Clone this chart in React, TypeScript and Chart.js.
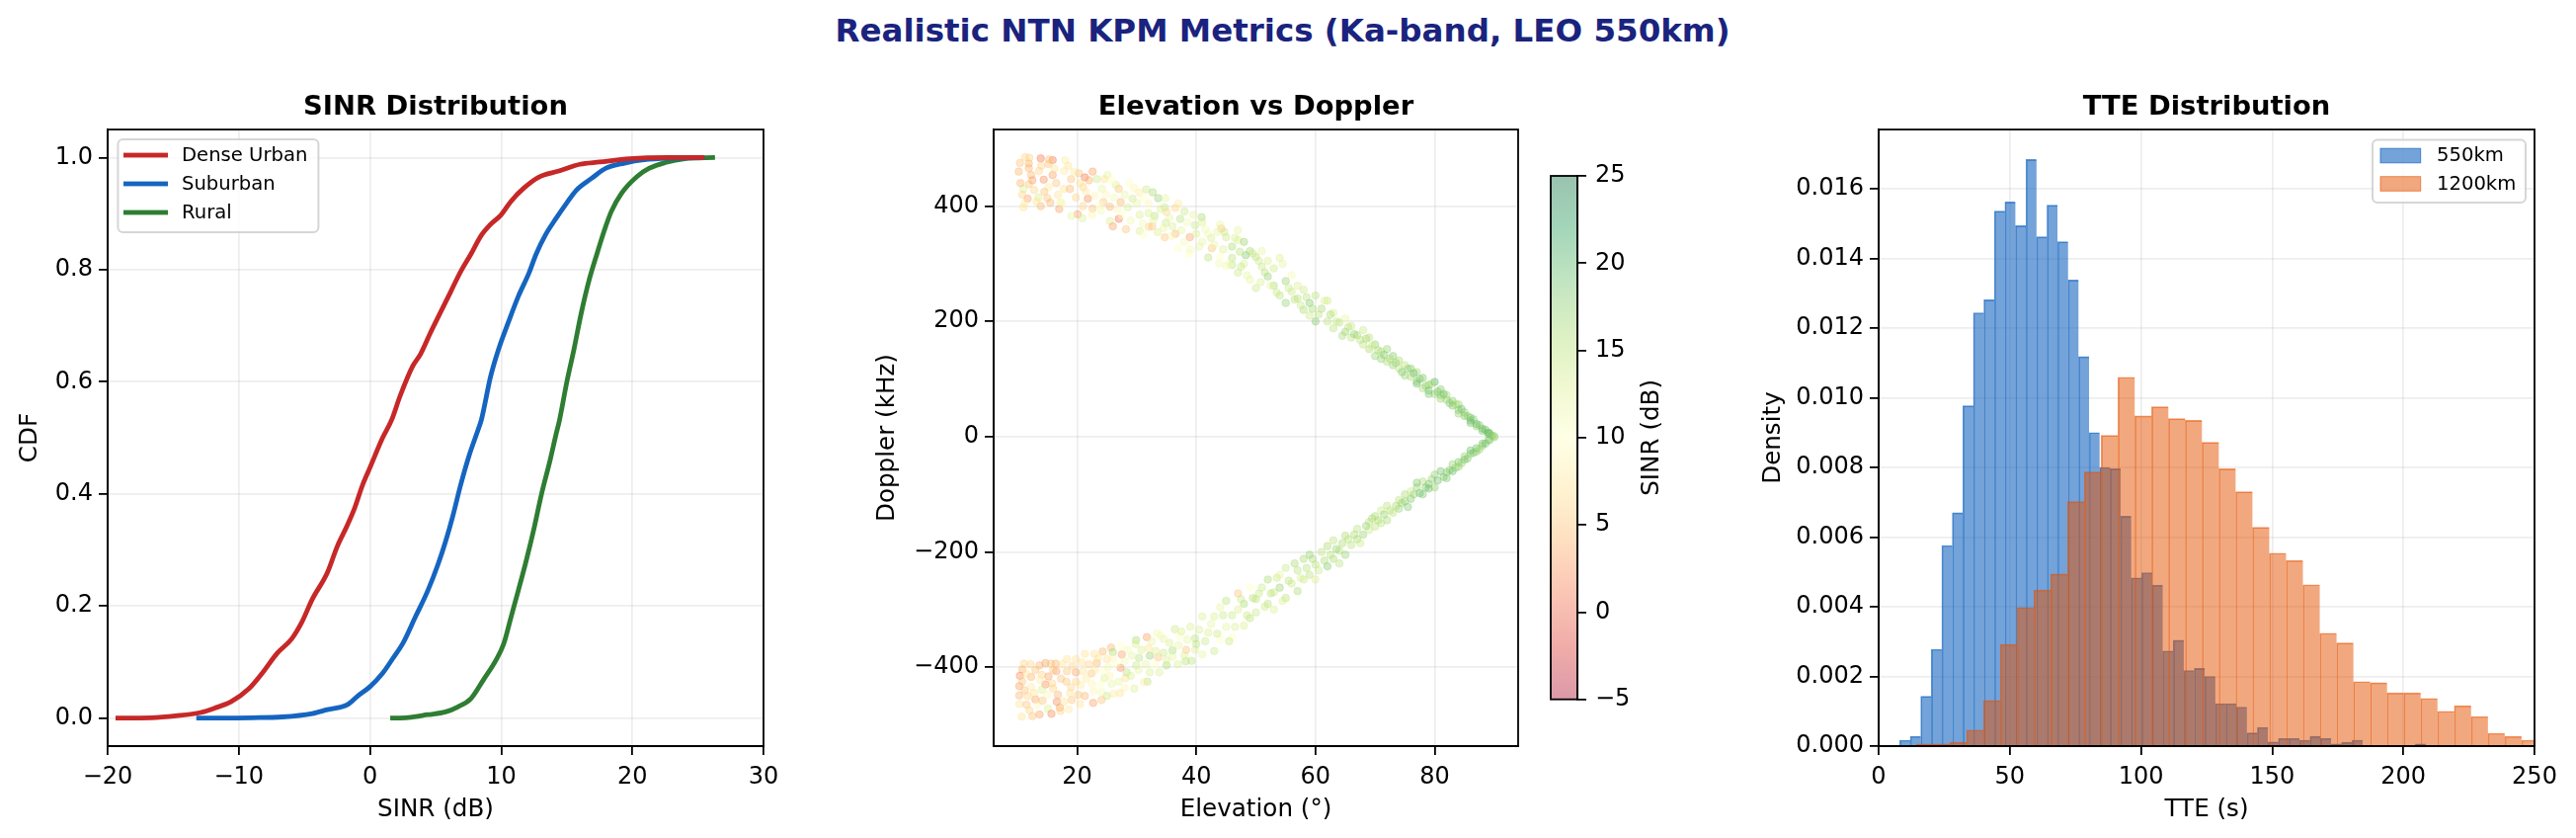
import { useEffect, useRef } from 'react'
import { Chart, registerables } from 'chart.js'

Chart.register(...registerables)

const FONT = '"DejaVu Sans"'
const TICK_SIZE = 24
const LABEL_SIZE = 24.6

// --- SINR CDF
const denseUrbanSinr = [-19.4, -16.7, -14.8, -12.9, -11.7, -10.6, -9.2, -8.25, -7.1, -5.95, -5.2, -4.4, -3.26, -2.5, -1.73, -1.15, -0.58, 0, 0.96, 1.65, 2.3, 3.26, 3.84, 4.6, 5.4, 6.14, 6.9, 7.7, 8.45, 9.2, 10, 10.75, 11.7, 12.86, 14.4, 16, 17.5, 19.8, 22.8, 25.5]
const denseUrbanCdf = [0, 0.0006, 0.004, 0.01, 0.019, 0.029, 0.053, 0.079, 0.115, 0.142, 0.171, 0.212, 0.259, 0.306, 0.344, 0.376, 0.415, 0.447, 0.5, 0.532, 0.575, 0.628, 0.649, 0.687, 0.725, 0.76, 0.796, 0.828, 0.86, 0.881, 0.898, 0.922, 0.945, 0.965, 0.976, 0.988, 0.992, 0.998, 1, 1]
const suburbanSinr = [-13.24, -9, -6.7, -4.4, -3.26, -1.73, -0.96, 0, 0.96, 1.73, 2.5, 3.45, 4.4, 5.18, 5.76, 6.33, 6.9, 7.55, 8.25, 8.5, 9.2, 9.8, 10.56, 11.3, 12.1, 12.67, 13.4, 14.2, 15, 15.74, 16.9, 18, 19.4, 20.9, 23.2, 25.5]
const suburbanCdf = [0, 0.0006, 0.002, 0.008, 0.015, 0.024, 0.039, 0.056, 0.08, 0.106, 0.133, 0.18, 0.227, 0.274, 0.315, 0.362, 0.415, 0.468, 0.515, 0.533, 0.61, 0.658, 0.707, 0.752, 0.793, 0.828, 0.863, 0.892, 0.919, 0.942, 0.963, 0.981, 0.99, 0.996, 0.999, 1]
const ruralSinr = [1.54, 2.9, 4.4, 5.76, 6.7, 7.7, 8.64, 9.6, 10.2, 10.75, 11.3, 11.9, 12.5, 13.05, 13.75, 14.15, 14.45, 15, 15.55, 16.1, 16.7, 17.3, 17.85, 18.4, 19.2, 20.35, 21.3, 22.5, 24, 26.3]
const ruralCdf = [0, 0.001, 0.006, 0.011, 0.02, 0.035, 0.068, 0.103, 0.133, 0.18, 0.227, 0.28, 0.338, 0.397, 0.462, 0.503, 0.532, 0.599, 0.658, 0.722, 0.781, 0.828, 0.869, 0.904, 0.937, 0.966, 0.981, 0.991, 0.998, 1]

// --- elevation, doppler, sinr for the approaching pass
const approachPass: [number, number, number][] = [
  [11.3, 485, 6], [12, 484, 6], [13.9, 483, 1], [15.9, 480, 1], [15.3, 481, 5], [18, 480, 8], [10.4, 475, 5], [11.9, 474, 4], [15.2, 473, 5], [11.9, 466, 4],
  [10.2, 460, 4], [13.6, 461, 6], [15.9, 454, 3], [17.8, 461, 8], [20.3, 457, 5], [22.6, 460, 3], [21.3, 450, 1], [23.3, 447, 14], [25.1, 454, 12], [24.6, 447, 7],
  [14.4, 446, 2], [12.3, 454, 4], [11.9, 438, 5], [11, 430, 13], [15.2, 433, 8], [17.8, 430, 7], [19, 447, 5], [18.8, 430, 4], [21, 433, 6], [24.2, 430, 12],
  [27, 430, 5], [26.5, 437, 13], [28.7, 441, 10], [31.6, 429, 14], [32.7, 424, 16], [30.4, 424, 8], [33.6, 414, 17], [34.8, 414, 12], [29.3, 413, 14], [31, 415, 10],
  [11.7, 413, 3], [13.5, 415, 13], [15, 414, 5], [11, 398, 7], [13.9, 400, 4], [15.5, 406, 4], [17.2, 407, 12], [21.8, 413, 2], [24.4, 407, 5], [27.3, 407, 4],
  [25.5, 399, 4], [22.6, 396, 5], [17, 395, 3], [20.1, 386, 3], [19, 383, 12], [20.9, 379, 13], [27, 378, 1], [25.5, 374, 13], [26, 365, 3], [28.2, 360, 5],
  [30.5, 357, 13], [31.2, 350, 10], [34.7, 346, 5], [36.5, 352, 4], [38.9, 346, 3], [32, 364, 6], [32.6, 365, 5], [34.9, 371, 14], [37.3, 378, 15], [40.9, 381, 16],
  [38, 391, 14], [35, 390, 6], [36.5, 397, 6], [33, 383, 15], [32, 388, 13], [34.7, 398, 14], [39.8, 367, 14], [42.6, 327, 5], [41, 338, 12], [42, 311, 15],
  [38.8, 317, 10], [37, 327, 10], [44.7, 355, 14], [44.2, 361, 5], [47, 341, 13], [48.3, 315, 18], [47.3, 321, 15], [46, 298, 15], [43.8, 301, 11],
  [41, 372, 13], [42, 352, 11], [43, 333, 12], [44, 368, 12], [44, 312, 10], [45, 346, 14], [45, 296, 11], [46, 330, 16], [46, 310, 15], [47, 358, 12], [47, 285, 14],
  [48, 338, 17], [48, 300, 13], [49, 322, 16], [49, 272, 12], [50, 312, 15], [50, 258, 14], [51, 295, 14], [51, 322, 12], [52, 278, 17], [52, 305, 13], [53, 262, 16],
  [53, 292, 14], [54, 310, 13], [54, 245, 15], [55, 270, 17], [55, 232, 17], [56, 252, 14], [56, 280, 11], [57, 240, 15], [57, 262, 13], [58, 220, 16], [58, 255, 14],
  [59, 232, 18], [59, 210, 14], [60, 245, 15], [60, 200, 18], [61, 222, 16], [62, 236, 14], [62, 200, 15], [63, 188, 15], [63, 215, 13], [64, 198, 15], [65, 182, 17],
  [65, 205, 12], [66, 172, 15], [66, 192, 14], [67, 176, 16], [68, 160, 15], [68, 185, 14], [69, 152, 16], [69, 172, 15], [70, 140, 17], [70, 160, 17], [71, 148, 15],
  [72, 130, 16], [72, 152, 17], [73, 124, 17], [73, 140, 18], [74, 132, 16], [75, 106, 17], [75, 124, 15], [76, 118, 18], [77, 96, 17], [77, 112, 16], [78, 102, 18],
  [78, 84, 16], [79, 90, 17], [80, 74, 17], [80, 95, 20], [81, 66, 17], [81, 82, 18], [82, 72, 16], [83, 54, 18], [83, 62, 18], [84, 46, 18], [84, 56, 17], [85, 42, 17],
  [85, 36, 18], [86, 28, 18], [86, 33, 19], [87, 22, 20], [87, 18, 17], [88, 14, 19], [88, 10, 18], [89, 5, 18], [89, 7, 20], [90, 1, 16], [89.6, 2, 18],
  [10.5, 440, 4], [10.8, 420, 6], [11.2, 405, 8], [12.5, 445, 3], [12.8, 428, 6], [13.2, 408, 7], [14, 470, 6], [14.5, 425, 5], [16.2, 465, 7], [16.5, 440, 5], [16.8, 420, 7],
  [17.5, 405, 9], [18.5, 470, 7], [19.5, 460, 8], [19.8, 415, 6], [20.5, 440, 7], [21, 400, 6], [21.5, 425, 8], [22, 445, 4], [22.5, 385, 9], [23, 418, 9], [23.8, 402, 10],
  [24, 392, 11], [24.8, 420, 9], [25.8, 445, 10], [26.2, 415, 11], [26.8, 395, 9], [27.5, 385, 10], [28, 420, 12], [28.5, 398, 13], [29, 375, 11], [29.5, 432, 9], [30, 405, 12],
  [30.5, 385, 13], [31, 370, 11], [32, 405, 9], [32.8, 375, 12], [33.5, 355, 13], [34, 395, 13], [34.5, 362, 12], [35.5, 380, 12], [35.8, 348, 11], [36, 365, 13], [37, 405, 8],
  [37.5, 358, 12], [38, 338, 11], [38.5, 372, 11], [39, 325, 11], [39.5, 385, 12], [40, 352, 13], [40.5, 330, 12], [41.5, 360, 11], [42.5, 345, 13], [43.5, 355, 12], [44.5, 325, 13],
  [45.5, 300, 11], [46.5, 345, 13], [47.5, 295, 14], [48.5, 280, 12], [49.5, 318, 14], [50.5, 305, 14], [50.8, 268, 13], [51.5, 285, 15], [52.5, 262, 12], [53.5, 250, 14], [54.5, 300, 12],
  [55.5, 258, 14], [56.5, 238, 15], [57.5, 228, 14], [58.5, 242, 15], [59.5, 222, 16], [60.5, 212, 15], [61.5, 236, 13], [62.5, 212, 16], [63.5, 200, 14], [64.5, 175, 16], [65.5, 190, 15],
  [66.5, 178, 17], [67.5, 168, 15], [68.5, 170, 16], [69.5, 158, 14], [70.5, 150, 16], [71, 135, 17], [71.5, 142, 18], [72.5, 135, 16], [73.5, 128, 17], [74, 118, 15], [74.5, 112, 18],
  [75.5, 118, 17], [76, 104, 16], [76.5, 110, 19], [77.5, 100, 18], [78.5, 88, 17], [79, 80, 19], [79.5, 92, 16], [80.5, 78, 18], [81.5, 74, 19], [82, 64, 17], [82.5, 58, 18],
  [83.5, 56, 16], [84.5, 48, 19], [85.5, 36, 17], [86.5, 30, 18], [87.5, 20, 18], [88.5, 12, 19], [89.2, 6, 18], [84, 40, 17], [86, 24, 19], [81, 72, 17], [79, 74, 18], [77, 92, 19],
]

// --- same thing for the receding pass
const recedePass: [number, number, number][] = [
  [11.1, -394, 6], [12.2, -395, 6], [13.7, -397, 4], [14.7, -393, 3], [15.6, -394, 5], [16.4, -394, 4], [10.8, -404, 4], [10.4, -415, 2], [12.3, -417, 4], [14.1, -413, 6],
  [15.2, -416, 3], [16.5, -407, 3], [18.3, -386, 7], [18.3, -407, 5], [19.8, -386, 7], [19.8, -409, 3], [21.3, -377, 7], [22.9, -377, 7], [24.3, -373, 4], [25.7, -366, 4],
  [26, -374, 16], [27.5, -378, 3], [27.4, -363, 10], [23.3, -393, 4], [25, -386, 7], [27.3, -401, 2], [21, -407, 7], [22.4, -411, 5], [24.5, -407, 10], [10.3, -433, 3],
  [12.3, -434, 8], [14.7, -430, 2], [14.1, -439, 13], [16, -437, 6], [17.3, -420, 5], [19, -435, 6], [20.6, -431, 8], [22.5, -429, 9], [24.6, -419, 13], [25.8, -429, 12],
  [28, -436, 9], [29.6, -437, 13], [31.8, -425, 15], [31.2, -426, 8], [28.1, -419, 7], [26.1, -446, 8], [24.1, -443, 11], [25, -450, 14], [21.3, -450, 4], [22.7, -462, 3],
  [24.1, -457, 5], [20.5, -464, 7], [19.1, -457, 5], [18.6, -473, 8], [10.3, -449, 4], [11.7, -450, 6], [13, -456, 3], [10.3, -464, 7], [11.5, -465, 5], [13.3, -466, 9],
  [15.1, -472, 13], [16.6, -460, 2], [17.1, -470, 3], [10.7, -486, 7], [12.5, -485, 5], [13.7, -482, 3], [15.7, -481, 2], [17.2, -476, 6], [29.9, -353, 16], [31.7, -348, 3],
  [33.4, -341, 11], [32.2, -380, 17], [30.4, -384, 15], [32, -367, 7], [33.6, -383, 5], [28.3, -409, 15], [29.9, -397, 14], [32.2, -409, 13], [33.8, -409, 13], [35, -397, 16],
  [36.9, -395, 13], [38.2, -390, 15], [39.2, -389, 15], [36, -371, 16], [38.3, -370, 5], [39.8, -350, 15], [39.8, -370, 13], [34.5, -351, 12], [36.4, -334, 14], [37.2, -346, 10],
  [41, -378, 12], [42, -340, 13], [43, -312, 13], [43, -372, 14], [44, -296, 12], [44, -352, 10], [45, -330, 12], [45, -285, 15], [46, -310, 14], [46, -348, 10], [47, -272, 5],
  [47, -300, 13], [48, -328, 13], [48, -290, 16], [49, -262, 10], [49, -315, 15], [50, -282, 15], [50, -305, 14], [51, -262, 14], [52, -290, 15], [52, -248, 16], [53, -270, 14],
  [53, -300, 13], [54, -240, 12], [54, -262, 17], [55, -280, 15], [55, -228, 14], [56, -255, 14], [57, -232, 15], [57, -268, 16], [58, -212, 16], [58, -248, 14], [59, -240, 15],
  [59, -205, 17], [60, -222, 15], [60, -248, 13], [61, -200, 15], [62, -225, 18], [62, -190, 16], [63, -212, 16], [63, -180, 15], [64, -198, 15], [64, -220, 15], [65, -172, 16],
  [65, -205, 17], [66, -188, 15], [67, -160, 15], [67, -178, 16], [68, -170, 17], [69, -148, 15], [69, -162, 14], [70, -138, 16], [70, -156, 15], [71, -128, 14], [72, -145, 16],
  [72, -120, 15], [73, -132, 15], [74, -110, 15], [74, -125, 17], [75, -112, 17], [76, -95, 14], [76, -108, 18], [77, -88, 17], [78, -100, 18], [78, -78, 16], [79, -82, 18],
  [80, -66, 17], [80, -88, 17], [81, -60, 19], [82, -62, 17], [82, -72, 18], [83, -48, 17], [84, -44, 18], [84, -52, 17], [85, -34, 17], [85, -40, 18], [86, -30, 17],
  [87, -20, 19], [87, -26, 17], [88, -12, 18], [88, -16, 17], [89, -6, 17], [90, -1, 17],
  [10.8, -425, 5], [11.2, -440, 5], [11.5, -412, 7], [12, -475, 6], [12.8, -445, 7], [13, -405, 5], [13.8, -422, 8], [14.2, -458, 5], [15, -448, 9], [15.8, -428, 6], [16, -405, 5],
  [16.8, -448, 4], [17.5, -395, 7], [17.8, -460, 7], [18.2, -425, 5], [18.8, -445, 7], [19.2, -398, 6], [19.8, -425, 6], [20.2, -448, 5], [20.8, -392, 7], [21.5, -420, 8], [22, -395, 6],
  [22.8, -442, 9], [23, -405, 8], [23.5, -385, 7], [24, -430, 10], [25.2, -400, 11], [25.5, -415, 9], [26, -385, 9], [26.5, -395, 10], [27, -425, 12], [27.2, -445, 7], [28, -390, 11],
  [28.5, -370, 11], [29, -415, 13], [29.2, -380, 12], [29.8, -360, 13], [30.3, -405, 12], [30.8, -370, 13], [31.5, -395, 12], [32.5, -355, 12], [33, -395, 10], [33.2, -372, 13], [34, -345, 11],
  [34.5, -375, 14], [35, -388, 13], [35.5, -358, 13], [36, -382, 12], [37, -362, 12], [37.5, -338, 13], [38, -380, 13], [38.5, -352, 12], [39, -330, 13], [40, -360, 15], [40.5, -335, 13],
  [41, -312, 13], [41.5, -355, 14], [42.5, -325, 12], [43.5, -342, 14], [44.5, -310, 14], [45.5, -355, 14], [46.5, -330, 13], [47.5, -282, 14], [48.5, -310, 14], [49.5, -280, 15], [50.5, -272, 14],
  [51.5, -295, 14], [52.5, -272, 15], [53.5, -245, 14], [54.5, -285, 13], [55.5, -250, 15], [56.5, -220, 16], [57.5, -245, 13], [58.5, -228, 15], [59.5, -212, 16], [60.5, -232, 14], [61.5, -215, 16],
  [62.5, -205, 15], [63.5, -195, 17], [64.5, -185, 16], [65.5, -178, 15], [66.5, -170, 16], [67.5, -185, 14], [68.5, -155, 17], [69.5, -142, 16], [70.5, -145, 16], [71, -150, 15], [71.5, -135, 17],
  [72.5, -128, 15], [73.5, -120, 16], [74.5, -115, 17], [75, -100, 16], [75.5, -122, 18], [76.5, -100, 17], [77.5, -98, 19], [78.5, -88, 18], [79.5, -74, 17], [80.5, -76, 19], [81.5, -70, 18],
  [82.5, -58, 18], [83.5, -54, 17], [84.5, -46, 17], [85.5, -38, 18], [86.5, -28, 18], [87.5, -22, 17], [88.5, -12, 19], [89.2, -6, 18], [79, -90, 19], [77, -80, 18], [83, -60, 19], [86, -24, 19],
]

// --- TTE histograms: bin centres (s) and density
const tte550Bins = [10.04, 14.05, 18.06, 22.07, 26.08, 30.09, 34.1, 38.11, 42.12, 46.13, 50.14, 54.15, 58.16, 62.17, 66.18, 70.19, 74.2, 78.21, 82.22, 86.23, 90.24, 94.25, 98.26, 102.27, 106.28, 110.29, 114.3, 118.31, 122.32, 126.33, 130.34, 134.35, 138.36, 142.37, 146.38, 150.39, 154.4, 158.41, 162.42, 166.43, 170.44, 174.45, 178.46, 182.47, 206.53]
const tte550Density = [0.00017, 0.00028, 0.00143, 0.00278, 0.00576, 0.0067, 0.00977, 0.01244, 0.01281, 0.01536, 0.01562, 0.01494, 0.01684, 0.01462, 0.01553, 0.01448, 0.01338, 0.01118, 0.009, 0.008, 0.00796, 0.0066, 0.00483, 0.00498, 0.00462, 0.00273, 0.00304, 0.00217, 0.00223, 0.002, 0.00122, 0.00122, 0.00112, 0.00038, 0.00054, 0.00012, 0.00022, 0.00022, 0.00017, 0.00028, 0.00022, 0.00006, 0.00011, 0.00017, 0.00006]
const tte1200Bins = [17.51, 23.92, 30.33, 36.74, 43.15, 49.56, 55.97, 62.38, 68.79, 75.2, 81.61, 88.02, 94.43, 100.84, 107.25, 113.66, 120.07, 126.48, 132.89, 139.3, 145.71, 152.12, 158.53, 164.94, 171.35, 177.76, 184.17, 190.58, 196.99, 203.4, 209.81, 216.22, 222.63, 229.04, 235.45, 241.86, 248.27]
const tte1200Density = [0.00006, 0.00006, 0.00011, 0.00046, 0.00131, 0.00292, 0.00398, 0.00448, 0.00494, 0.00702, 0.00787, 0.00892, 0.01059, 0.00948, 0.00974, 0.0094, 0.00935, 0.00872, 0.00796, 0.0073, 0.00628, 0.00554, 0.00533, 0.00463, 0.00324, 0.00296, 0.00185, 0.00182, 0.00153, 0.00153, 0.00137, 0.001, 0.00116, 0.00085, 0.00037, 0.00028, 0.00017]

// --- ticks
const sinrTicks = [-20, -10, 0, 10, 20, 30]
const cdfTicks = [0, 0.2, 0.4, 0.6, 0.8, 1]
const elevationTicks = [20, 40, 60, 80]
const dopplerTicks = [-400, -200, 0, 200, 400]
const colorbarTicks = [-5, 0, 5, 10, 15, 20, 25]
const tteTicks = [0, 50, 100, 150, 200, 250]
const densityTicks = [0, 0.002, 0.004, 0.006, 0.008, 0.01, 0.012, 0.014, 0.016]

// RdYlGn stops
const rdYlGn = [[165, 0, 38], [215, 48, 39], [244, 109, 67], [253, 174, 97], [254, 224, 139], [255, 255, 191], [217, 239, 139], [166, 217, 106], [102, 189, 99], [26, 152, 80], [0, 104, 55]]

function sinrColor(sinr: number, alpha: number) {
  const t = Math.min(Math.max((sinr + 5) / 30, 0), 1) * (rdYlGn.length - 1)
  const i = Math.min(Math.floor(t), rdYlGn.length - 2)
  const c = rdYlGn[i].map((v, k) => Math.round(v + (rdYlGn[i + 1][k] - v) * (t - i)))
  return `rgba(${c[0]},${c[1]},${c[2]},${alpha})`
}

const minus = (s: string) => s.replace('-', '\u2212')

// x or y axis in the matplotlib look
function axis(min: number, max: number, ticks: number[], digits: number, title: any, size?: number, horizontal?: boolean) {
  return {
    type: 'linear',
    min,
    max,
    afterBuildTicks: (scale: any) => {
      scale.ticks = ticks.map((value) => ({ value }))
    },
    afterFit: (scale: any) => {
      if (size === undefined) return
      if (horizontal) scale.height = size
      else scale.width = size
    },
    ticks: {
      color: '#000',
      font: { family: FONT, size: TICK_SIZE },
      padding: horizontal ? 8.5 : 6,
      autoSkip: false,
      maxRotation: 0,
      callback: (v: any) => minus(Number(v).toFixed(digits)),
    },
    grid: {
      color: 'rgba(176,176,176,0.22)',
      lineWidth: 1.8,
      tickColor: '#000',
      tickLength: 9,
      tickWidth: 1.8,
    },
    border: { color: '#000', width: 1.8 },
    title: { display: !!title, color: '#000', font: { family: FONT, size: LABEL_SIZE }, ...title },
  }
}

const panelTitle = (text: string) => ({
  display: true,
  text,
  color: '#000',
  fullSize: false,
  font: { family: FONT, size: 27.4, weight: 'bold' },
  padding: { top: 92, bottom: 6.2 },
})

const framePlugin = {
  id: 'frame',
  afterDatasetsDraw(chart: any) {
    const { ctx, chartArea: a } = chart
    ctx.save()
    ctx.strokeStyle = '#000'
    ctx.lineWidth = 1.8
    ctx.strokeRect(a.left, a.top, a.right - a.left, a.bottom - a.top)
    ctx.restore()
  },
}

// matplotlib style legend sitting inside the axes
function legendInside(box: any) {
  return {
    id: 'legendInside',
    afterDraw(chart: any) {
      const { ctx } = chart
      ctx.save()
      ctx.beginPath()
      ctx.roundRect(box.x, box.y, box.w, box.h, 5)
      ctx.fillStyle = 'rgba(255,255,255,0.8)'
      ctx.fill()
      ctx.strokeStyle = 'rgba(204,204,204,0.8)'
      ctx.lineWidth = 2
      ctx.stroke()
      ctx.font = `19.6px ${FONT}`
      ctx.textBaseline = 'middle'
      chart.data.datasets.forEach((ds: any, i: number) => {
        const y = box.rows[i]
        if (box.patch) {
          ctx.fillStyle = ds.backgroundColor
          ctx.strokeStyle = ds.borderColor
          ctx.lineWidth = 1
          ctx.fillRect(box.sx, y - 7.3, box.sw, 14.6)
          ctx.strokeRect(box.sx, y - 7.3, box.sw, 14.6)
        } else {
          ctx.fillStyle = ds.borderColor
          ctx.fillRect(box.sx, y - 2.4, box.sw, 4.8)
        }
        ctx.fillStyle = '#000'
        ctx.fillText(ds.label, box.tx, y + 0.5)
      })
      ctx.restore()
    },
  }
}

const xy = (xs: number[], ys: number[]) => xs.map((x, i) => ({ x, y: ys[i] }))

const cdfLine = (label: string, xs: number[], ys: number[], color: string) => ({
  label,
  data: xy(xs, ys),
  borderColor: color,
  backgroundColor: color,
  borderWidth: 4.8,
  pointRadius: 0,
  cubicInterpolationMode: 'monotone',
})

function sinrConfig() {
  return {
    type: 'line',
    data: {
      datasets: [
        cdfLine('Dense Urban', denseUrbanSinr, denseUrbanCdf, '#C62828'),
        cdfLine('Suburban', suburbanSinr, suburbanCdf, '#1565C0'),
        cdfLine('Rural', ruralSinr, ruralCdf, '#2E7D32'),
      ],
    },
    options: {
      responsive: false,
      animation: false,
      devicePixelRatio: 1,
      layout: { padding: { right: 77 } },
      plugins: { legend: { display: false }, tooltip: { enabled: false }, title: panelTitle('SINR Distribution') },
      scales: {
        x: axis(-20, 30, sinrTicks, 0, { text: 'SINR (dB)', padding: { bottom: 14 } }, 93, true),
        y: axis(-0.05, 1.05, cdfTicks, 1, { text: 'CDF', padding: { top: 16 } }, 109),
      },
    },
    plugins: [framePlugin, legendInside({ x: 119.4, y: 141, w: 203, h: 94, sx: 125, sw: 45, tx: 184, rows: [157, 186, 215] })],
  }
}

function dopplerConfig() {
  const points = [...approachPass, ...recedePass]
  return {
    type: 'scatter',
    data: {
      datasets: [
        {
          label: 'SINR',
          data: points.map((p) => ({ x: p[0], y: p[1] })),
          backgroundColor: points.map((p) => sinrColor(p[2], 0.36)),
          borderColor: points.map((p) => sinrColor(p[2], 0.3)),
          borderWidth: 1,
          pointRadius: 3.8,
        },
      ],
    },
    options: {
      responsive: false,
      animation: false,
      devicePixelRatio: 1,
      layout: { padding: { right: 23 } },
      plugins: { legend: { display: false }, tooltip: { enabled: false }, title: panelTitle('Elevation vs Doppler') },
      scales: {
        x: axis(6, 94, elevationTicks, 0, { text: 'Elevation (\u00b0)', padding: { bottom: 14 } }, 93, true),
        y: axis(-537, 533, dopplerTicks, 0, { text: 'Doppler (kHz)', padding: { top: 33.5 } }, 156),
      },
    },
    plugins: [framePlugin],
  }
}

function colorbarConfig() {
  const y = axis(-5, 25, colorbarTicks, 0, null, 153)
  return {
    type: 'bar',
    data: {
      labels: ['SINR (dB)'],
      datasets: [
        {
          data: [[-5, 25]],
          barPercentage: 1,
          categoryPercentage: 1,
          borderWidth: 0,
          backgroundColor: (ctx: any) => {
            const a = ctx.chart.chartArea
            if (!a) return 'transparent'
            const g = ctx.chart.ctx.createLinearGradient(0, a.bottom, 0, a.top)
            rdYlGn.forEach((_, i) => g.addColorStop(i / (rdYlGn.length - 1), sinrColor(-5 + (30 * i) / (rdYlGn.length - 1), 0.4)))
            return g
          },
        },
      ],
    },
    options: {
      responsive: false,
      animation: false,
      devicePixelRatio: 1,
      layout: { padding: { left: 10, top: 178, bottom: 140.3 } },
      plugins: { legend: { display: false }, tooltip: { enabled: false } },
      scales: {
        x: { display: false },
        y: { ...y, position: 'right', grid: { ...y.grid, drawOnChartArea: false }, ticks: { ...y.ticks, padding: 9 } },
      },
    },
    plugins: [
      framePlugin,
      {
        id: 'colorbarLabel',
        afterDraw(chart: any) {
          const { ctx, chartArea: a } = chart
          ctx.save()
          ctx.translate(113, (a.top + a.bottom) / 2)
          ctx.rotate(-Math.PI / 2)
          ctx.font = `${LABEL_SIZE}px ${FONT}`
          ctx.fillStyle = '#000'
          ctx.textAlign = 'center'
          ctx.textBaseline = 'middle'
          ctx.fillText('SINR (dB)', 0, 0)
          ctx.restore()
        },
      },
    ],
  }
}

function tteConfig() {
  const x = axis(0, 250, tteTicks, 0, { text: 'TTE (s)', padding: { bottom: 14 } }, 93, true)
  return {
    type: 'bar',
    data: {
      datasets: [
        {
          label: '550km',
          data: xy(tte550Bins, tte550Density),
          backgroundColor: 'rgba(21,101,192,0.6)',
          borderColor: 'rgba(21,101,192,0.7)',
          borderWidth: { top: 1, left: 1 },
          barThickness: 10.65,
          grouped: false,
          order: 2,
        },
        {
          label: '1200km',
          data: xy(tte1200Bins, tte1200Density),
          backgroundColor: 'rgba(230,81,0,0.5)',
          borderColor: 'rgba(230,81,0,0.6)',
          borderWidth: { top: 1, left: 1 },
          barThickness: 17.02,
          grouped: false,
          order: 1,
        },
      ],
    },
    options: {
      responsive: false,
      animation: false,
      devicePixelRatio: 1,
      layout: { padding: { right: 42 } },
      plugins: { legend: { display: false }, tooltip: { enabled: false }, title: panelTitle('TTE Distribution') },
      scales: {
        x: { ...x, offset: false, grid: { ...x.grid, offset: false } },
        y: axis(0, 0.0177, densityTicks, 3, { text: 'Density', padding: { top: 31 } }, 152),
      },
    },
    plugins: [framePlugin, legendInside({ x: 652, y: 141.6, w: 155, h: 63.4, sx: 660, sw: 40.7, tx: 717, patch: true, rows: [157.5, 186] })],
  }
}

function Panel({ left, width, config }: { left: number; width: number; config: () => any }) {
  const canvasRef = useRef<HTMLCanvasElement>(null)

  useEffect(() => {
    if (!canvasRef.current) return
    const chart = new Chart(canvasRef.current, config())
    return () => chart.destroy()
  }, [config])

  return <canvas ref={canvasRef} width={width} height={848} style={{ position: 'absolute', left, top: 0, width, height: 848 }} />
}

export default function App() {
  return (
    <div style={{ position: 'absolute', left: 0, top: 0, width: 2608, height: 848, background: '#fff', overflow: 'hidden' }}>
      <div
        style={{
          position: 'absolute',
          left: 0,
          width: 2597,
          top: 13,
          textAlign: 'center',
          fontFamily: FONT,
          fontWeight: 'bold',
          fontSize: 32.5,
          lineHeight: '36px',
          color: '#1A237E',
        }}
      >
        Realistic NTN KPM Metrics (Ka-band, LEO 550km)
      </div>
      <Panel left={0} width={850} config={sinrConfig} />
      <Panel left={850} width={710} config={dopplerConfig} />
      <Panel left={1560} width={190} config={colorbarConfig} />
      <Panel left={1750} width={858} config={tteConfig} />
    </div>
  )
}
